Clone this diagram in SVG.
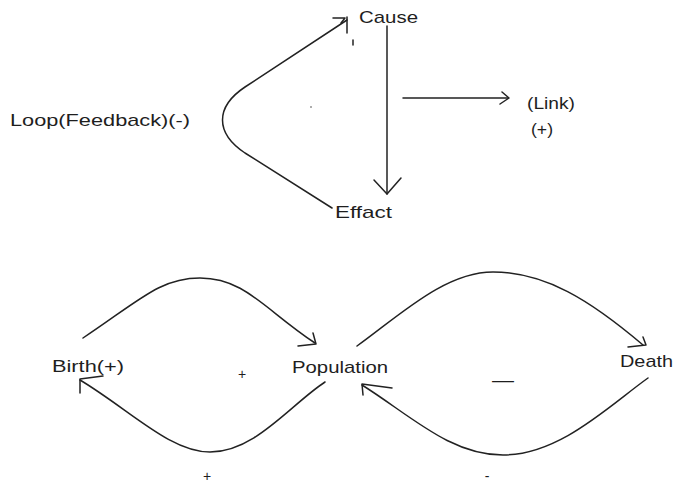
<svg xmlns="http://www.w3.org/2000/svg" width="673" height="484" viewBox="0 0 673 484">
<style>
.t{font-family:"Liberation Sans",Arial,sans-serif;font-size:17px;fill:#1e1e1e}
.s{font-family:"Liberation Sans",Arial,sans-serif;font-size:14px;fill:#1e1e1e}
.c{fill:none;stroke:#222;stroke-width:1.5;stroke-linecap:round;stroke-linejoin:round}
</style>
<rect width="673" height="484" fill="#fff"/>
<g id="connectors">
  <path class="c" d="M347,20 L245,87 C215,107 215,133 245,153 L332,208"/>
  <path class="c" d="M333,18 L345,18 L341,23 M347,17 L347,33"/>
  <path class="c" d="M387,26 L387,194"/>
  <path class="c" d="M374,180 L387,194 L401,178"/>
  <path class="c" d="M403,98 L508,98"/>
  <path class="c" d="M502,92 L509,98 L500,104"/>
  <path class="c" d="M83,338 C140,300 160,278 200,278 C245,278 265,310 315,343"/>
  <path class="c" d="M298,346 L316,344 L313,333"/>
  <path class="c" d="M325,382 C290,405 255,452 210,452 C170,452 130,410 80,380"/>
  <path class="c" d="M103,376 L80,379 L80,393"/>
  <path class="c" d="M357,346 C400,315 445,272 493,272 C545,272 590,300 643,345"/>
  <path class="c" d="M628,347 L646,345 L643,337"/>
  <path class="c" d="M648,378 C610,405 560,455 503,455 C450,455 410,415 362,385"/>
  <path class="c" d="M392,388 L362,384 L363,395"/>
</g>
<g id="cause"><text class="t" x="359" y="23" font-size="16" textLength="59" lengthAdjust="spacingAndGlyphs">Cause</text></g>
<g id="effact"><text class="t" x="335" y="218" textLength="57" lengthAdjust="spacingAndGlyphs">Effact</text></g>
<g id="loop"><text class="t" x="10" y="126" textLength="180" lengthAdjust="spacingAndGlyphs">Loop(Feedback)(-)</text></g>
<g id="link"><text class="t" x="527" y="109" textLength="48" lengthAdjust="spacingAndGlyphs">(Link)</text><text class="t" x="531" y="135" textLength="22" lengthAdjust="spacingAndGlyphs">(+)</text></g>
<g id="marks"><circle cx="311" cy="107" r="0.8" fill="#444"/><path class="c" d="M353,40 L353,45" stroke-width="1.2"/></g>
<g id="birth"><text class="t" x="52" y="372" textLength="72" lengthAdjust="spacingAndGlyphs">Birth(+)</text></g>
<g id="population"><text class="t" x="292" y="373" textLength="96" lengthAdjust="spacingAndGlyphs">Population</text></g>
<g id="death"><text class="t" x="620" y="367" textLength="53" lengthAdjust="spacingAndGlyphs">Death</text></g>
<g id="signs">
  <text class="s" x="242" y="379" text-anchor="middle">+</text>
  <text class="s" x="207" y="481" text-anchor="middle" font-size="12">+</text>
  <text class="t" x="503" y="386" text-anchor="middle" textLength="22" lengthAdjust="spacingAndGlyphs">—</text>
  <text class="s" x="487" y="481" text-anchor="middle" font-size="12">-</text>
</g>
</svg>
